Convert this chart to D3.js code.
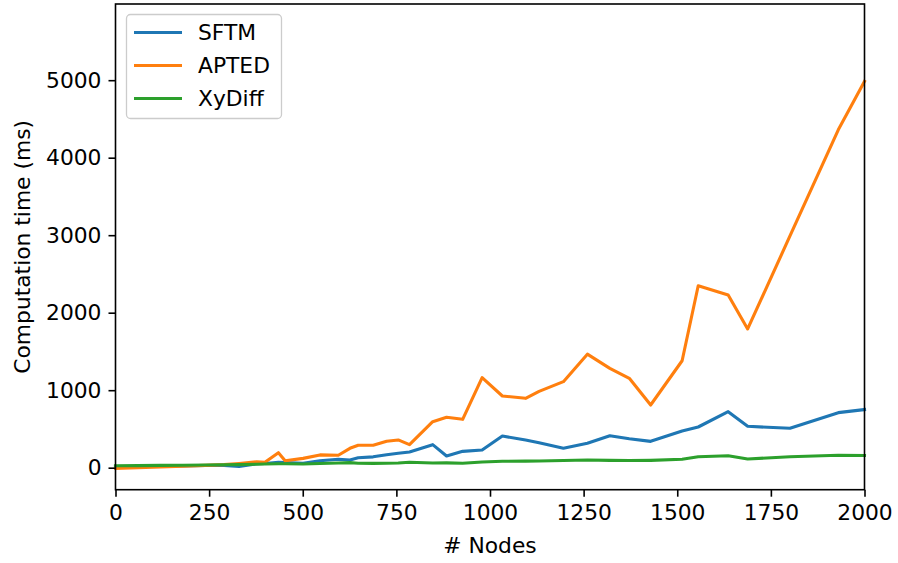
<!DOCTYPE html>
<html>
<head>
<meta charset="utf-8">
<script src="https://cdn.jsdelivr.net/npm/d3@7"></script>
<style>
  body { margin: 0; background: #fff; }
  svg text { font-family: "DejaVu Sans", sans-serif; fill: #000; }
</style>
</head>
<body>
<script>
var nodes = [0, 60, 120, 180, 240, 290, 330, 377, 399, 435, 453, 501, 546, 595, 626, 648, 688, 724, 755, 785,
  847, 884, 927, 979, 1033, 1095, 1131, 1196, 1260, 1320, 1372, 1429, 1513, 1556, 1636, 1688, 1801, 1930, 2000];
var sftm = [15, 15, 18, 22, 28, 30, 15, 50, 55, 70, 65, 57, 90, 108, 99, 129, 140, 168, 186, 203,
  297, 151, 211, 228, 409, 357, 323, 250, 315, 413, 374, 340, 473, 525, 723, 534, 508, 710, 750];
var apted = [-10, 0, 10, 20, 30, 40, 55, 77, 70, 194, 90, 120, 165, 160, 250, 289, 289, 342, 358, 297,
  594, 650, 624, 1161, 925, 895, 985, 1110, 1465, 1282, 1153, 809, 1380, 2348, 2228, 1790, 2990, 4360, 4985];
var xydiff = [25, 27, 30, 32, 35, 38, 40, 45, 47, 50, 50, 48, 55, 60, 65, 58, 56, 57, 60, 70,
  60, 62, 57, 74, 83, 85, 87, 92, 100, 95, 92, 95, 108, 142, 155, 112, 142, 160, 158];
var seriesNames = ['SFTM', 'APTED', 'XyDiff'];
var xTicks = [0, 250, 500, 750, 1000, 1250, 1500, 1750, 2000];
var yTicks = [0, 1000, 2000, 3000, 4000, 5000];

var colors = ['#1f77b4', '#ff7f0e', '#2ca02c'];
var series = [sftm, apted, xydiff];

var w = 898, h = 563;
var mLeft = 115.5, mRight = 864.5, mTop = 4, mBottom = 489.7;
var fs = '21.8px';

var svg = d3.select('body').append('svg')
  .attr('width', w)
  .attr('height', h);

var x = d3.scaleLinear().domain([0, 2000]).range([mLeft, mRight]);
var y = d3.scaleLinear().domain([-284, 5983]).range([mBottom, mTop]);

// lines
var line = d3.line()
  .x(function (d, i) { return x(nodes[i]); })
  .y(function (d) { return y(d); });

series.forEach(function (s, k) {
  svg.append('path')
    .datum(s)
    .attr('d', line)
    .attr('fill', 'none')
    .attr('stroke', colors[k])
    .attr('stroke-width', 3.1)
    .attr('stroke-linejoin', 'round')
    .attr('stroke-linecap', 'square');
});

// axes
var xAxis = svg.append('g')
  .attr('transform', 'translate(0,' + mBottom + ')')
  .call(d3.axisBottom(x).tickValues(xTicks).tickSize(7).tickPadding(6).tickFormat(d3.format('d')));
var yAxis = svg.append('g')
  .attr('transform', 'translate(' + mLeft + ',0)')
  .call(d3.axisLeft(y).tickValues(yTicks).tickSize(7).tickPadding(7).tickFormat(d3.format('d')));
[xAxis, yAxis].forEach(function (g) {
  g.select('.domain').remove();
  g.selectAll('line').attr('stroke', '#000').attr('stroke-width', 1.6);
  g.selectAll('text').style('font-size', fs).attr('font-family', 'DejaVu Sans');
});
xAxis.selectAll('text').attr('dy', '0.8em');

// frame
svg.append('rect')
  .attr('x', mLeft).attr('y', mTop)
  .attr('width', mRight - mLeft).attr('height', mBottom - mTop)
  .attr('fill', 'none').attr('stroke', '#000').attr('stroke-width', 1.6);

// labels
svg.append('text')
  .attr('x', (mLeft + mRight) / 2).attr('y', 553)
  .attr('text-anchor', 'middle')
  .style('font-size', fs)
  .text('# Nodes');
svg.append('text')
  .attr('transform', 'translate(30,' + (mTop + mBottom) / 2 + ') rotate(-90)')
  .attr('text-anchor', 'middle')
  .style('font-size', fs)
  .text('Computation time (ms)');

// legend
var lg = svg.append('g');
lg.append('rect')
  .attr('x', 126.5).attr('y', 14.5)
  .attr('width', 155).attr('height', 104)
  .attr('rx', 4)
  .attr('fill', '#fff').attr('fill-opacity', 0.8)
  .attr('stroke', '#ccc').attr('stroke-width', 1.3);
seriesNames.forEach(function (name, i) {
  var yy = 32.5 + i * 33;
  lg.append('line')
    .attr('x1', 134).attr('x2', 182)
    .attr('y1', yy).attr('y2', yy)
    .attr('stroke', colors[i]).attr('stroke-width', 3.1);
  lg.append('text')
    .attr('x', 198).attr('y', yy + 7.5)
    .style('font-size', fs)
    .text(name);
});
</script>
</body>
</html>
